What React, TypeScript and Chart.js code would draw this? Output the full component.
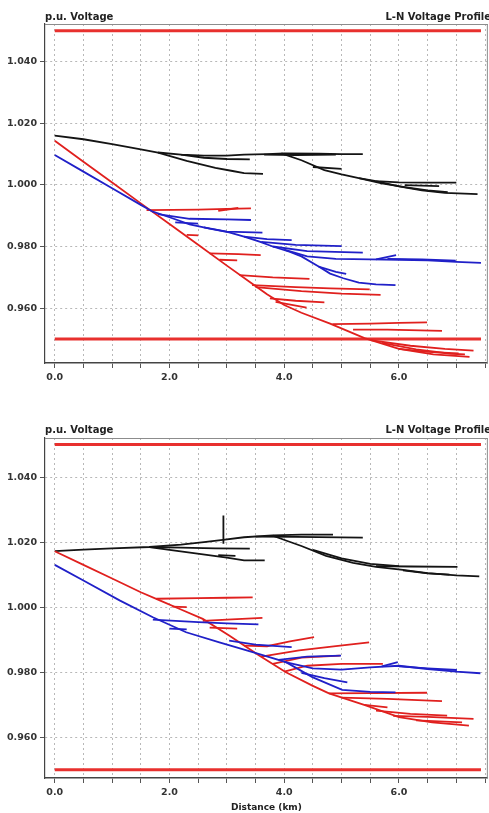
import React, { useEffect, useRef } from "react";
import { Chart, registerables } from "chart.js";

Chart.register(...registerables);

type Pt = [number, number];

// ---- axis / tick values ----
const xGridTicks = [0, 0.5, 1, 1.5, 2, 2.5, 3, 3.5, 4, 4.5, 5, 5.5, 6, 6.5, 7, 7.5];
const xLabelTicks = [0, 2, 4, 6];
const yTicks = [0.96, 0.98, 1.0, 1.02, 1.04];
const xRange = [-0.17, 7.55];
const topYRange = [0.9422, 1.0522];
const bottomYRange = [0.9475, 1.052];

// ---- limit lines ----
const limitHigh = 1.05;
const limitLow = 0.95;
const limitSpan = [0, 7.43];

// ---- texts ----
const leftTitle = "p.u. Voltage";
const rightTitle = "L-N Voltage Profile";
const xAxisTitle = "Distance (km)";

// ---- top chart: branches [km, p.u.] ----
const topBlack: Pt[][] = [
  [[0, 1.016], [0.5, 1.0148], [1.0, 1.0132], [1.5, 1.0115], [1.8, 1.0105], [2.2, 1.0098], [2.6, 1.0095], [3.0, 1.0095], [3.3, 1.0098], [3.7, 1.01], [4.0, 1.0102], [4.6, 1.0101], [5.0, 1.01], [5.37, 1.01]],
  [[1.8, 1.0105], [2.3, 1.0078], [2.8, 1.0055], [3.1, 1.0045], [3.3, 1.0038], [3.63, 1.0036]],
  [[2.2, 1.0098], [2.6, 1.0088], [3.0, 1.0084], [3.4, 1.0083]],
  [[3.65, 1.0098], [4.2, 1.0097], [4.9, 1.0098]],
  [[3.95, 1.0102], [4.3, 1.008], [4.7, 1.0048], [5.0, 1.0034], [5.3, 1.0022], [5.6, 1.0012], [6.0, 1.0008], [6.5, 1.0007], [7.0, 1.0007]],
  [[5.3, 1.0022], [5.7, 1.0005], [6.1, 0.9993], [6.5, 0.9982], [6.85, 0.9976]],
  [[5.6, 1.0012], [6.0, 0.9995], [6.4, 0.9982], [6.8, 0.9974], [7.37, 0.997]],
  [[4.5, 1.0058], [5.0, 1.0052]],
  [[6.1, 0.9999], [6.7, 0.9996]],
];

const topRed: Pt[][] = [
  [[0, 1.0143], [0.5, 1.0075], [1.0, 1.0008], [1.5, 0.994], [2.0, 0.9873], [2.5, 0.9806], [3.0, 0.9738], [3.4, 0.9685], [3.7, 0.9645], [4.0, 0.9610], [4.3, 0.9585], [4.8, 0.9550], [5.4, 0.9503], [6.0, 0.9468], [6.6, 0.945], [7.23, 0.9442]],
  [[1.6, 0.9918], [2.5, 0.992], [3.0, 0.9922], [3.42, 0.9924]],
  [[2.85, 0.9916], [3.2, 0.9925]],
  [[2.3, 0.9838], [2.5, 0.9836]],
  [[2.7, 0.9778], [3.2, 0.9775], [3.59, 0.9772]],
  [[2.87, 0.9757], [3.18, 0.9755]],
  [[3.22, 0.9707], [3.8, 0.97], [4.44, 0.9695]],
  [[3.44, 0.9675], [4.2, 0.9668], [4.8, 0.9664], [5.49, 0.9661]],
  [[3.5, 0.9668], [4.3, 0.9655], [5.0, 0.9647], [5.68, 0.9643]],
  [[3.75, 0.9632], [4.2, 0.9624], [4.7, 0.9619]],
  [[3.85, 0.962], [4.39, 0.9602]],
  [[4.84, 0.9548], [5.5, 0.955], [6.0, 0.9552], [6.49, 0.9554]],
  [[5.2, 0.953], [5.8, 0.953], [6.75, 0.9526]],
  [[5.5, 0.9496], [6.2, 0.9478], [6.8, 0.9468], [7.3, 0.9462]],
  [[6.0, 0.9468], [6.5, 0.9458], [7.04, 0.9453]],
  [[5.7, 0.9487], [6.3, 0.9466], [6.9, 0.9452], [7.15, 0.945]],
];

const topBlue: Pt[][] = [
  [[0, 1.0097], [0.5, 1.0043], [1.0, 0.9989], [1.5, 0.9935], [1.71, 0.9913], [2.0, 0.9895], [2.35, 0.9872], [2.7, 0.9858], [3.04, 0.9846], [3.3, 0.9832], [3.57, 0.9816], [3.8, 0.98], [4.09, 0.9783], [4.3, 0.9768], [4.6, 0.9735], [4.8, 0.9712], [5.03, 0.9697], [5.3, 0.9683], [5.6, 0.9677], [5.94, 0.9675]],
  [[1.8, 0.9905], [2.35, 0.989], [3.0, 0.9888], [3.42, 0.9886]],
  [[2.6, 0.9862], [3.0, 0.9848], [3.62, 0.9845]],
  [[3.3, 0.9832], [3.7, 0.9824], [4.13, 0.9821]],
  [[3.6, 0.9815], [4.2, 0.9805], [5.0, 0.9801]],
  [[3.8, 0.98], [4.4, 0.9785], [5.37, 0.978]],
  [[4.0, 0.979], [4.4, 0.9768], [4.9, 0.976], [5.5, 0.9758], [6.0, 0.9757], [6.5, 0.9755], [7.0, 0.975], [7.43, 0.9747]],
  [[5.6, 0.9758], [5.95, 0.9772]],
  [[5.8, 0.976], [6.4, 0.9758], [6.99, 0.9754]],
  [[4.6, 0.9735], [4.9, 0.9718], [5.08, 0.9711]],
  [[2.1, 0.9878], [2.5, 0.9874]],
];

// ---- bottom chart: branches [km, p.u.] ----
const bottomBlack: Pt[][] = [
  [[0, 1.0172], [0.5, 1.0177], [1.0, 1.0181], [1.65, 1.0185], [2.2, 1.0192], [2.6, 1.02], [2.93, 1.0207], [3.3, 1.0215], [3.8, 1.0221], [4.3, 1.0223], [4.85, 1.0223]],
  [[3.5, 1.0217], [4.2, 1.0216], [5.37, 1.0214]],
  [[3.8, 1.022], [4.03, 1.0205], [4.3, 1.0188], [4.73, 1.0158], [5.2, 1.0136], [5.6, 1.0124], [6.07, 1.0115], [6.5, 1.0105], [7.0, 1.0098], [7.4, 1.0095]],
  [[5.6, 1.0126], [6.2, 1.0125], [7.02, 1.0124]],
  [[6.07, 1.0113], [6.5, 1.0104], [6.88, 1.01]],
  [[4.5, 1.0176], [5.0, 1.015], [5.5, 1.0133], [6.0, 1.0126]],
  [[1.65, 1.0185], [2.2, 1.0183], [2.8, 1.0181], [3.4, 1.018]],
  [[1.65, 1.0185], [2.0, 1.0176], [2.52, 1.0164], [3.0, 1.0152], [3.3, 1.0144], [3.66, 1.0144]],
  [[2.94, 1.0195], [2.94, 1.0282]],
  [[2.85, 1.016], [3.15, 1.0158]],
];

const bottomRed: Pt[][] = [
  [[0, 1.0172], [0.5, 1.013], [1.0, 1.0088], [1.5, 1.0046], [1.83, 1.0021], [2.2, 0.9993], [2.58, 0.9964], [3.04, 0.9913], [3.57, 0.9851], [4.03, 0.98], [4.49, 0.9759], [4.78, 0.9735], [5.42, 0.9698], [6.0, 0.9662], [6.58, 0.9646], [7.22, 0.9636]],
  [[1.77, 1.0026], [2.5, 1.0028], [3.0, 1.0029], [3.45, 1.003]],
  [[2.05, 1.0002], [2.3, 1.0]],
  [[2.58, 0.9958], [3.0, 0.9962], [3.62, 0.9967]],
  [[2.7, 0.9937], [3.18, 0.9934]],
  [[3.3, 0.9882], [3.7, 0.988], [4.1, 0.9895], [4.52, 0.9908]],
  [[3.6, 0.9848], [4.26, 0.9867], [4.9, 0.988], [5.48, 0.9892]],
  [[3.8, 0.9826], [4.3, 0.9845], [4.97, 0.9851]],
  [[4.0, 0.9802], [4.4, 0.982], [5.0, 0.9826], [5.72, 0.9826]],
  [[4.78, 0.9735], [5.5, 0.9736], [6.49, 0.9737]],
  [[5.0, 0.9722], [5.8, 0.9718], [6.75, 0.9711]],
  [[5.4, 0.97], [5.8, 0.9692]],
  [[5.6, 0.9682], [6.2, 0.9672], [6.84, 0.9667]],
  [[5.9, 0.9666], [6.5, 0.9663], [7.3, 0.9657]],
  [[6.3, 0.9652], [6.8, 0.9648], [7.1, 0.9646]],
];

const bottomBlue: Pt[][] = [
  [[0, 1.013], [0.5, 1.0082], [1.13, 1.0021], [1.71, 0.9969], [2.29, 0.9923], [2.87, 0.9892], [3.45, 0.9862], [4.03, 0.9831], [4.49, 0.9785], [5.01, 0.9746], [5.5, 0.974], [5.94, 0.9738]],
  [[1.71, 0.9962], [2.5, 0.9954], [3.0, 0.995], [3.55, 0.9947]],
  [[2.0, 0.9934], [2.3, 0.9932]],
  [[3.04, 0.9897], [3.5, 0.9885], [4.13, 0.9877]],
  [[3.9, 0.9838], [4.4, 0.9848], [4.99, 0.9851]],
  [[4.0, 0.9832], [4.5, 0.9812], [5.0, 0.9808], [5.5, 0.9815], [6.0, 0.982], [6.5, 0.981], [7.0, 0.9802], [7.42, 0.9797]],
  [[5.7, 0.9818], [5.98, 0.9831]],
  [[6.0, 0.9818], [6.5, 0.9812], [7.01, 0.9807]],
  [[4.3, 0.9798], [4.7, 0.9782], [5.1, 0.9769]],
];

// ---- styles ----
const COLOR_BLACK = "#141414";
const COLOR_RED = "#e0201e";
const COLOR_BLUE = "#2020c8";
const COLOR_LIMIT = "#e8302e";
const FONT = "DejaVu Sans";

function lineSet(pts: Pt[], color: string, width: number) {
  return {
    data: pts.map(([x, y]) => ({ x, y })),
    showLine: true,
    borderColor: color,
    backgroundColor: color,
    borderWidth: width,
    pointRadius: 0,
    pointHoverRadius: 0,
    tension: 0,
    fill: false,
  };
}

type ChartProps = {
  black: Pt[][];
  red: Pt[][];
  blue: Pt[][];
  yRange: number[];
  height: number;
  areaTop: number;
  areaBottom: number;
  titleY: number;
  xTitle?: string;
  xTitleY?: number;
};

function ProfileChart(props: ChartProps) {
  const ref = useRef<HTMLCanvasElement | null>(null);
  useEffect(() => {
    const canvas = ref.current;
    if (!canvas) return;
    const datasets: any[] = [];
    props.blue.forEach((b) => datasets.push(lineSet(b, COLOR_BLUE, 1.8)));
    props.red.forEach((b) => datasets.push(lineSet(b, COLOR_RED, 1.8)));
    props.black.forEach((b) => datasets.push(lineSet(b, COLOR_BLACK, 1.8)));
    datasets.push(lineSet([[limitSpan[0], limitHigh], [limitSpan[1], limitHigh]], COLOR_LIMIT, 3));
    datasets.push(lineSet([[limitSpan[0], limitLow], [limitSpan[1], limitLow]], COLOR_LIMIT, 3));

    const framePlugin = {
      id: "frameAndTitles",
      afterDraw(chart: any) {
        const { ctx, chartArea } = chart;
        const { left, top, right, bottom } = chartArea;
        ctx.save();
        ctx.strokeStyle = "#8c8c8c";
        ctx.lineWidth = 1;
        ctx.beginPath();
        ctx.moveTo(left, top + 0.5);
        ctx.lineTo(right, top + 0.5);
        ctx.moveTo(right - 0.5, top);
        ctx.lineTo(right - 0.5, bottom);
        ctx.stroke();
        ctx.fillStyle = "#222";
        ctx.font = `bold 10px "${FONT}"`;
        ctx.textBaseline = "alphabetic";
        ctx.textAlign = "left";
        ctx.fillText(leftTitle, left, props.titleY);
        ctx.textAlign = "right";
        ctx.fillText(rightTitle, chart.width + 2, props.titleY);
        if (props.xTitle) {
          ctx.font = `bold 9px "${FONT}"`;
          ctx.textAlign = "center";
          ctx.textBaseline = "middle";
          ctx.fillText(props.xTitle, (left + right) / 2, props.xTitleY || 0);
        }
        ctx.restore();
      },
    };

    const tickFont = { family: FONT, size: 9.5, weight: "bold" as const };

    const chart = new Chart(canvas, {
      type: "scatter",
      data: { datasets },
      plugins: [framePlugin],
      options: {
        animation: false,
        responsive: false,
        devicePixelRatio: 1,
        events: [],
        layout: { padding: { top: props.areaTop, left: 0, right: 0, bottom: 0 } },
        plugins: {
          legend: { display: false },
          title: { display: false },
          tooltip: { enabled: false },
        },
        scales: {
          x: {
            type: "linear",
            min: xRange[0],
            max: xRange[1],
            afterBuildTicks: (scale: any) => {
              scale.ticks = xGridTicks.map((v) => ({ value: v }));
            },
            afterFit: (scale: any) => {
              scale.height = props.height - props.areaBottom;
            },
            ticks: {
              autoSkip: false,
              maxRotation: 0,
              padding: 4,
              color: "#333",
              font: tickFont,
              callback: (v: any) => (xLabelTicks.includes(Number(v)) ? Number(v).toFixed(1) : ""),
            },
            grid: {
              color: "#b8b8b8",
              lineWidth: 1,
              tickLength: 5,
              tickColor: "#555",
              drawTicks: true,
            },
            border: { display: true, color: "#444", width: 1.6, dash: [2, 3] },
          },
          y: {
            type: "linear",
            min: props.yRange[0],
            max: props.yRange[1],
            afterBuildTicks: (scale: any) => {
              scale.ticks = yTicks.map((v) => ({ value: v }));
            },
            afterFit: (scale: any) => {
              scale.width = 45;
            },
            ticks: {
              autoSkip: false,
              padding: 3,
              color: "#333",
              font: tickFont,
              callback: (v: any) => Number(v).toFixed(3),
            },
            grid: {
              color: "#b8b8b8",
              lineWidth: 1,
              tickLength: 5,
              tickColor: "#555",
              drawTicks: true,
            },
            border: { display: true, color: "#444", width: 1.2, dash: [2, 3] },
          },
        },
      },
    } as any);
    return () => chart.destroy();
  }, []);
  return (
    <canvas
      ref={ref}
      width={489}
      height={props.height}
      style={{ display: "block", width: 489, height: props.height }}
    />
  );
}

export default function App() {
  useEffect(() => {
    document.body.style.margin = "0";
  }, []);
  return (
    <div style={{ position: "absolute", left: 0, top: 0, width: 489, height: 813, background: "#fff", overflow: "hidden" }}>
      <div style={{ position: "absolute", left: 0, top: 0 }}>
        <ProfileChart
          black={topBlack}
          red={topRed}
          blue={topBlue}
          yRange={topYRange}
          height={395}
          areaTop={24}
          areaBottom={363}
          titleY={20}
        />
      </div>
      <div style={{ position: "absolute", left: 0, top: 400 }}>
        <ProfileChart
          black={bottomBlack}
          red={bottomRed}
          blue={bottomBlue}
          yRange={bottomYRange}
          height={413}
          areaTop={38}
          areaBottom={378}
          titleY={33}
          xTitle={xAxisTitle}
          xTitleY={408}
        />
      </div>
    </div>
  );
}
